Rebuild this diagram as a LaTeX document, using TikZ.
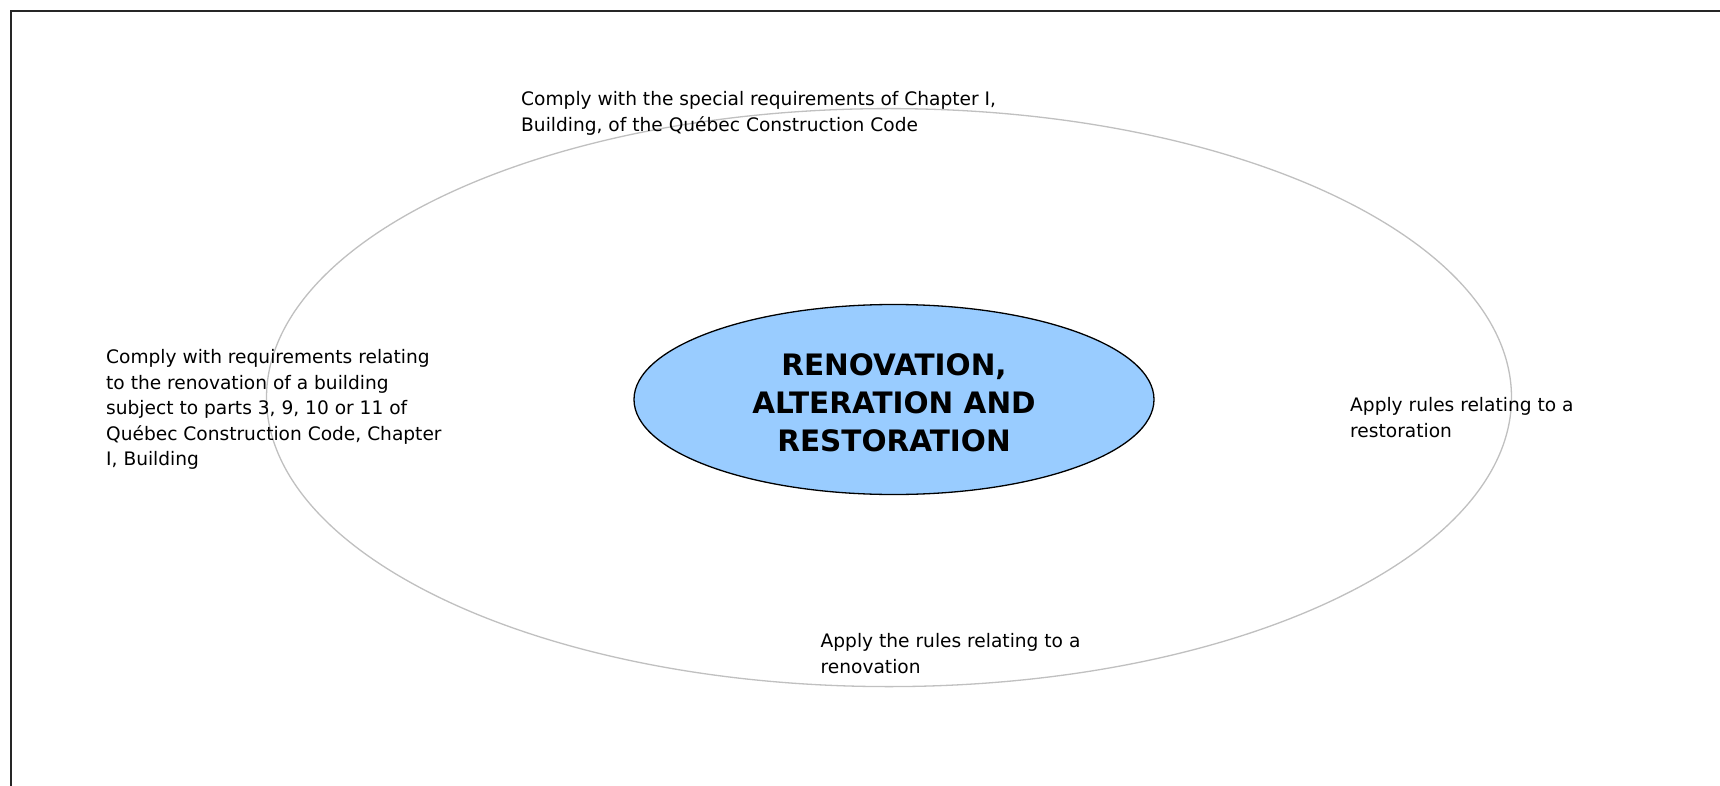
\documentclass[tikz,border=0pt]{standalone}
\usepackage{fontspec}
\setmainfont{DejaVu Sans}
\usetikzlibrary{shapes.geometric}
\definecolor{innerfill}{HTML}{99CCFF}
\definecolor{outerline}{HTML}{C0C0C0}
\tikzset{
  lbl/.style={anchor=north west, inner sep=0pt, align=left, font=\fontsize{18.6}{25.5}\selectfont},
  frame/.style={line width=2pt, black!85},
}
\begin{document}
\begin{tikzpicture}[x=1pt,y=-1pt]
\useasboundingbox[fill=white] (0,0) rectangle (1720,786);
\draw[frame] (11,790) -- (11,11) -- (1725,11);
\node[ellipse, draw=outerline, line width=1.3pt, minimum width=1245pt, minimum height=578pt, inner sep=0pt] (outer) at (889,397.6) {};
\node[ellipse, draw=black, fill=innerfill, line width=1.3pt, minimum width=520pt, minimum height=190pt, inner sep=0pt] (core) at (894,399.5) {};
\node[align=center, inner sep=0pt, font=\bfseries\fontsize{29.5}{38}\selectfont] (coretext) at (894,403) {RENOVATION,\\ALTERATION AND\\RESTORATION};
\node[lbl] (top) at (521,91.3) {Comply with the special requirements of Chapter I,\\Building, of the Québec Construction Code};
\node[lbl] (left) at (106,349.3) {Comply with requirements relating\\to the renovation of a building\\subject to parts 3, 9, 10 or 11 of\\Québec Construction Code, Chapter\\I, Building};
\node[lbl] (right) at (1350,397.3) {Apply rules relating to a\\restoration};
\node[lbl] (bottom) at (820.5,633.3) {Apply the rules relating to a\\renovation};
\end{tikzpicture}
\end{document}
